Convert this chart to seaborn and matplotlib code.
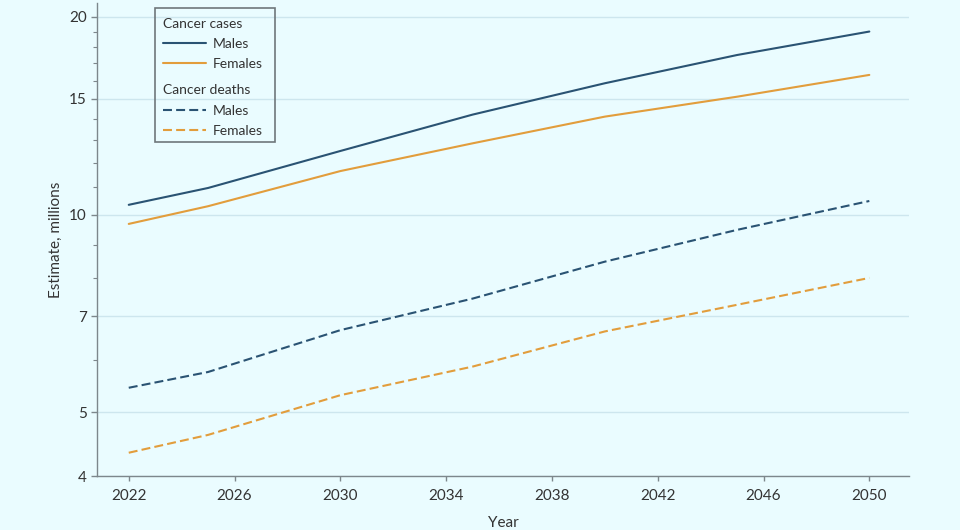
import pandas as pd
import matplotlib
matplotlib.use("Agg")
import matplotlib.pyplot as plt
import matplotlib.ticker as mticker
from matplotlib.lines import Line2D
from matplotlib.patches import Rectangle
import seaborn as sns

# data (millions)
years = [2022, 2025, 2030, 2035, 2040, 2045, 2050]
cases_males = [10.35, 10.98, 12.5, 14.2, 15.85, 17.5, 19.0]
cases_females = [9.68, 10.3, 11.65, 12.84, 14.1, 15.12, 16.32]
deaths_males = [5.45, 5.76, 6.67, 7.45, 8.48, 9.48, 10.49]
deaths_females = [4.34, 4.62, 5.31, 5.87, 6.64, 7.29, 8.01]

y_major = [4, 5, 7, 10, 15, 20]
y_minor = [6, 8, 9, 11, 12, 13, 14, 16, 17, 18, 19]
x_ticks = [2022, 2026, 2030, 2034, 2038, 2042, 2046, 2050]

male_col = "#2a5373"
female_col = "#e29d3c"
bg = "#eafcff"

rows = []
for sex, measure, vals in [("Males", "Cancer cases", cases_males),
                           ("Females", "Cancer cases", cases_females),
                           ("Males", "Cancer deaths", deaths_males),
                           ("Females", "Cancer deaths", deaths_females)]:
    for yr, v in zip(years, vals):
        rows.append({"Year": yr, "Estimate": v, "Sex": sex, "Measure": measure})
df = pd.DataFrame(rows)

sns.set_style("ticks")
plt.rcParams["font.family"] = ["Lato", "DejaVu Sans"]

fig = plt.figure(figsize=(9.6, 5.3), dpi=100)
fig.patch.set_facecolor(bg)
ax = fig.add_axes([97 / 960, 1 - 476 / 530, 812 / 960, 473 / 530])
ax.set_facecolor(bg)

sns.lineplot(data=df, x="Year", y="Estimate", hue="Sex", style="Measure",
             palette={"Males": male_col, "Females": female_col},
             dashes={"Cancer cases": "", "Cancer deaths": (4.3, 2)},
             linewidth=1.5, legend=False, ax=ax)

ax.set_yscale("log")
ax.set_ylim(4, 21)
ax.set_xlim(2020.8, 2051.5)
ax.yaxis.set_major_locator(mticker.FixedLocator(y_major))
ax.yaxis.set_major_formatter(mticker.FixedFormatter([str(v) for v in y_major]))
ax.yaxis.set_minor_locator(mticker.FixedLocator(y_minor))
ax.yaxis.set_minor_formatter(mticker.NullFormatter())
ax.set_xticks(x_ticks)

ax.grid(axis="y", which="major", color="#cde6ee", linewidth=1)
ax.set_axisbelow(True)
sns.despine(ax=ax)
for s in ["left", "bottom"]:
    ax.spines[s].set_color("#7d878c")
    ax.spines[s].set_linewidth(1)

ax.tick_params(axis="both", which="major", labelsize=11, colors="#7d878c",
               labelcolor="#333333", length=4.5, width=1, pad=3)
ax.tick_params(axis="y", which="minor", colors="#7d878c", length=3, width=0.8)
ax.tick_params(axis="x", which="major", length=3.5, pad=6)

ax.set_xlabel("Year", fontsize=11, color="#333333", labelpad=9)
ax.set_ylabel("Estimate, millions", fontsize=11, color="#333333", labelpad=4)

# legend: two grouped legends inside one frame
def handles(ls):
    return [Line2D([], [], color=male_col, lw=1.5, linestyle=ls),
            Line2D([], [], color=female_col, lw=1.5, linestyle=ls)]

common = dict(loc="upper left", frameon=False, fontsize=10, title_fontsize=10,
              handlelength=3.1, handletextpad=0.45, labelspacing=0.6,
              borderpad=0, borderaxespad=0, alignment="left")
leg1 = ax.legend(handles(("-")), ["Males", "Females"], title="Cancer cases",
                 bbox_to_anchor=(0.0813, 0.969), **common)
ax.add_artist(leg1)
leg2 = ax.legend(handles((0, (4.3, 2))), ["Males", "Females"], title="Cancer deaths",
                 bbox_to_anchor=(0.0813, 0.828), **common)
for lg in (leg1, leg2):
    for t in lg.get_texts():
        t.set_color("#333333")
    lg.get_title().set_color("#333333")

ax.add_patch(Rectangle((0.0714, 0.706), 0.1478, 0.283, transform=ax.transAxes,
                       fill=False, edgecolor="#6f777b", linewidth=1.2,
                       clip_on=False, zorder=5))

fig.savefig("out.png", dpi=100, facecolor=bg)
